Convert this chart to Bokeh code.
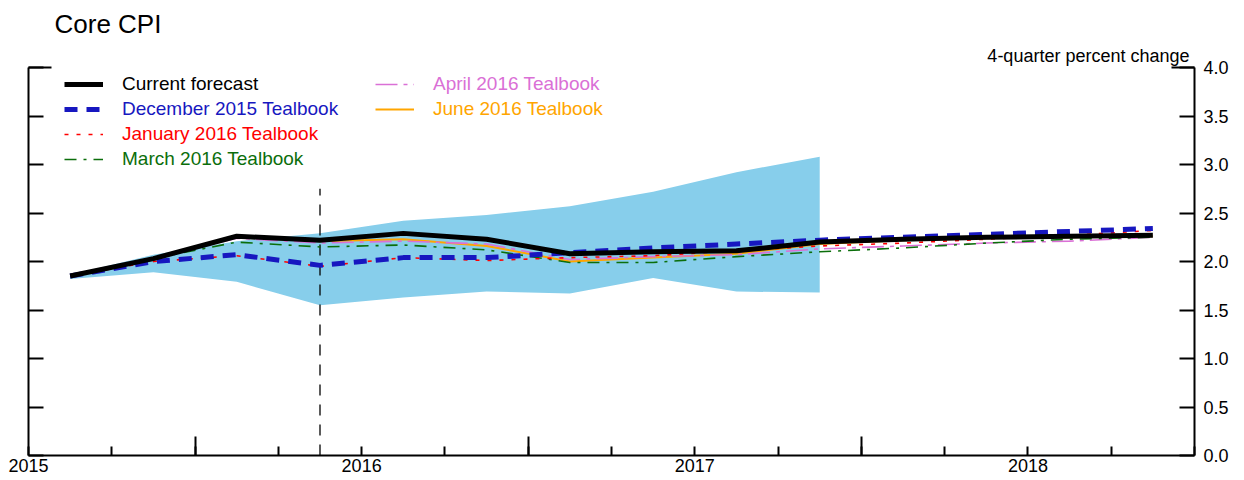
from bokeh.plotting import figure
from bokeh.models import (Range1d, LinearAxis, FixedTicker, Legend, LegendItem,
                          Title, CustomJSTickFormatter, ColumnDataSource)
from bokeh.embed import file_html
from bokeh.resources import INLINE

# ---------------- data ----------------
quarters = ["2015Q1", "2015Q2", "2015Q3", "2015Q4",
            "2016Q1", "2016Q2", "2016Q3", "2016Q4",
            "2017Q1", "2017Q2", "2017Q3", "2017Q4",
            "2018Q1", "2018Q2"]

current_forecast = [1.85, 2.03, 2.26, 2.22, 2.29, 2.23, 2.08, 2.10, 2.11, 2.20, 2.23, 2.25, 2.26, 2.27]
dec2015_tealbook = [1.85, 2.00, 2.07, 1.96, 2.04, 2.04, 2.09, 2.14, 2.18, 2.22, 2.25, 2.28, 2.31, 2.34]
jan2016_tealbook = [1.85, 2.00, 2.06, 1.95, 2.04, 2.01, 2.04, 2.06, 2.11, 2.16, 2.19, 2.23, 2.27, 2.32]
mar2016_tealbook = [1.85, 2.03, 2.20, 2.15, 2.17, 2.12, 1.99, 1.99, 2.05, 2.10, 2.14, 2.19, 2.23, 2.25]
apr2016_tealbook = [1.85, 2.03, 2.24, 2.19, 2.21, 2.18, 2.02, 2.05, 2.07, 2.13, 2.16, 2.19, 2.21, 2.25]
jun2016_tealbook = [1.85, 2.03, 2.25, 2.21, 2.23, 2.16, 2.00, 2.04, 2.08, 2.18, 2.22, 2.24, 2.25, 2.26]

band_quarters = ["2015Q1", "2015Q2", "2015Q3", "2015Q4",
                 "2016Q1", "2016Q2", "2016Q3", "2016Q4",
                 "2017Q1", "2017Q2"]
band_upper = [1.86, 2.07, 2.21, 2.29, 2.42, 2.48, 2.57, 2.72, 2.92, 3.08]
band_lower = [1.82, 1.89, 1.79, 1.55, 1.63, 1.69, 1.67, 1.83, 1.69, 1.68]

forecast_start_quarter = "2015Q4"
forecast_marker_top = 2.75

x_tick_values = [2015.0, 2015.25, 2015.5, 2015.75, 2016.0, 2016.25, 2016.5, 2016.75,
                 2017.0, 2017.25, 2017.5, 2017.75, 2018.0, 2018.25, 2018.5]
x_midyear_ticks = [2015.5, 2016.5, 2017.5]
y_tick_values = [0.0, 0.5, 1.0, 1.5, 2.0, 2.5, 3.0, 3.5, 4.0]

title_text = "Core CPI"
units_text = "4-quarter percent change"


def qpos(q):
    """Mid-point of a quarter on a decimal-year axis."""
    year, qn = int(q[:4]), int(q[5])
    return year + (qn - 1) * 0.25 + 0.125


x = [qpos(q) for q in quarters]
xb = [qpos(q) for q in band_quarters]
xv = qpos(forecast_start_quarter)

FONT = "Liberation Sans"
FRAME_W, FRAME_H = 1166, 388

p = figure(frame_width=FRAME_W, frame_height=FRAME_H,
           x_range=Range1d(2015.0, 2018.5), y_range=Range1d(0, 4.0),
           output_backend="svg", toolbar_location=None, title=None,
           y_axis_location=None,
           min_border_left=28, min_border_right=41, min_border_top=67, min_border_bottom=0)
p.outline_line_color = None
p.xgrid.visible = False
p.ygrid.visible = False
p.background_fill_color = "white"
p.border_fill_color = "white"

# ---- bottom axis ----
xa = p.xaxis[0]
xa.ticker = FixedTicker(ticks=x_tick_values, minor_ticks=x_midyear_ticks)
xa.formatter = CustomJSTickFormatter(code="return (Math.abs(tick - Math.round(tick)) < 1e-6) ? Math.round(tick).toString() : '';")
xa.major_tick_in = 9
xa.major_tick_out = 0
xa.minor_tick_in = 19
xa.minor_tick_out = 0
xa.axis_line_width = 2
xa.major_tick_line_width = 2
xa.minor_tick_line_width = 2
xa.major_label_standoff = 3
xa.major_label_text_font = FONT
xa.major_label_text_font_size = "18px"
xa.major_label_text_color = "black"

# ---- left axis (no labels) ----
la = LinearAxis(ticker=FixedTicker(ticks=y_tick_values, minor_ticks=[4.0]),
                formatter=CustomJSTickFormatter(code="return '';"))
la.major_tick_in = 15
la.major_tick_out = 0
la.minor_tick_in = 23
la.minor_tick_out = 0
la.axis_line_width = 2
la.major_tick_line_width = 2
la.minor_tick_line_width = 2
la.major_label_standoff = 0
p.add_layout(la, "left")

# ---- right axis ----
ra = LinearAxis(ticker=FixedTicker(ticks=y_tick_values, minor_ticks=[4.0]),
                formatter=CustomJSTickFormatter(code="return tick.toFixed(1);"))
ra.major_tick_in = 15
ra.major_tick_out = 0
ra.minor_tick_in = 23
ra.minor_tick_out = 0
ra.axis_line_width = 2
ra.major_tick_line_width = 2
ra.minor_tick_line_width = 2
ra.major_label_standoff = 9
ra.major_label_text_font = FONT
ra.major_label_text_font_size = "18px"
ra.major_label_text_color = "black"
p.add_layout(ra, "right")

# ---- titles ----
t_units = Title(text=units_text, align="right", offset=5, standoff=4,
                text_font=FONT, text_font_size="18px", text_font_style="normal",
                text_color="black")
p.add_layout(t_units, "above")
t_main = Title(text=title_text, align="left", offset=26, standoff=6,
               text_font=FONT, text_font_size="26px", text_font_style="normal",
               text_color="black")
p.add_layout(t_main, "above")

# ---- band ----
band_src = ColumnDataSource(dict(x=xb, lo=band_lower, hi=band_upper))
p.varea(x="x", y1="lo", y2="hi", source=band_src, fill_color="#87CEEB", fill_alpha=1.0)

# ---- vertical forecast marker ----
p.segment(x0=[xv], y0=[0], x1=[xv], y1=[forecast_marker_top],
          line_color="black", line_width=1.3, line_dash="11 9")

# ---- series ----
BLUE = "#1717C0"
GREEN = "#0B6E0B"
r_jun = p.line(x, jun2016_tealbook, line_color="#FFA500", line_width=2)
r_apr = p.line(x, apr2016_tealbook, line_color="#DA70D6", line_width=1.6, line_dash="22 6 4 6")
r_mar = p.line(x, mar2016_tealbook, line_color=GREEN, line_width=1.6, line_dash="12 7 3 7")
r_jan = p.line(x, jan2016_tealbook, line_color="#FF0000", line_width=1.6, line_dash="4 8")
r_dec = p.line(x, dec2015_tealbook, line_color=BLUE, line_width=5, line_dash="13 9")
r_cur = p.line(x, current_forecast, line_color="black", line_width=5)

# ---- legends (one per entry so each label keeps its own colour) ----
entries = [
    ("Current forecast", r_cur, "black", 0, 0),
    ("December 2015 Tealbook", r_dec, BLUE, 0, 1),
    ("January 2016 Tealbook", r_jan, "#FF0000", 0, 2),
    ("March 2016 Tealbook", r_mar, GREEN, 0, 3),
    ("April 2016 Tealbook", r_apr, "#DA70D6", 1, 0),
    ("June 2016 Tealbook", r_jun, "#FFA500", 1, 1),
]
col_x = [36, 347]
for label, rend, col, c, r in entries:
    row_center = 18 + 25 * r
    lg = Legend(items=[LegendItem(label=label, renderers=[rend])],
                location=(col_x[c], FRAME_H - row_center - 10))
    lg.label_text_color = col
    lg.label_text_font = FONT
    lg.label_text_font_size = "19px"
    lg.glyph_width = 39
    lg.glyph_height = 20
    lg.label_height = 20
    lg.label_standoff = 19
    lg.padding = 0
    lg.margin = 0
    lg.spacing = 0
    lg.border_line_color = None
    lg.background_fill_alpha = 0
    p.add_layout(lg, "center")

open("out.html", "w").write(file_html(p, INLINE))
